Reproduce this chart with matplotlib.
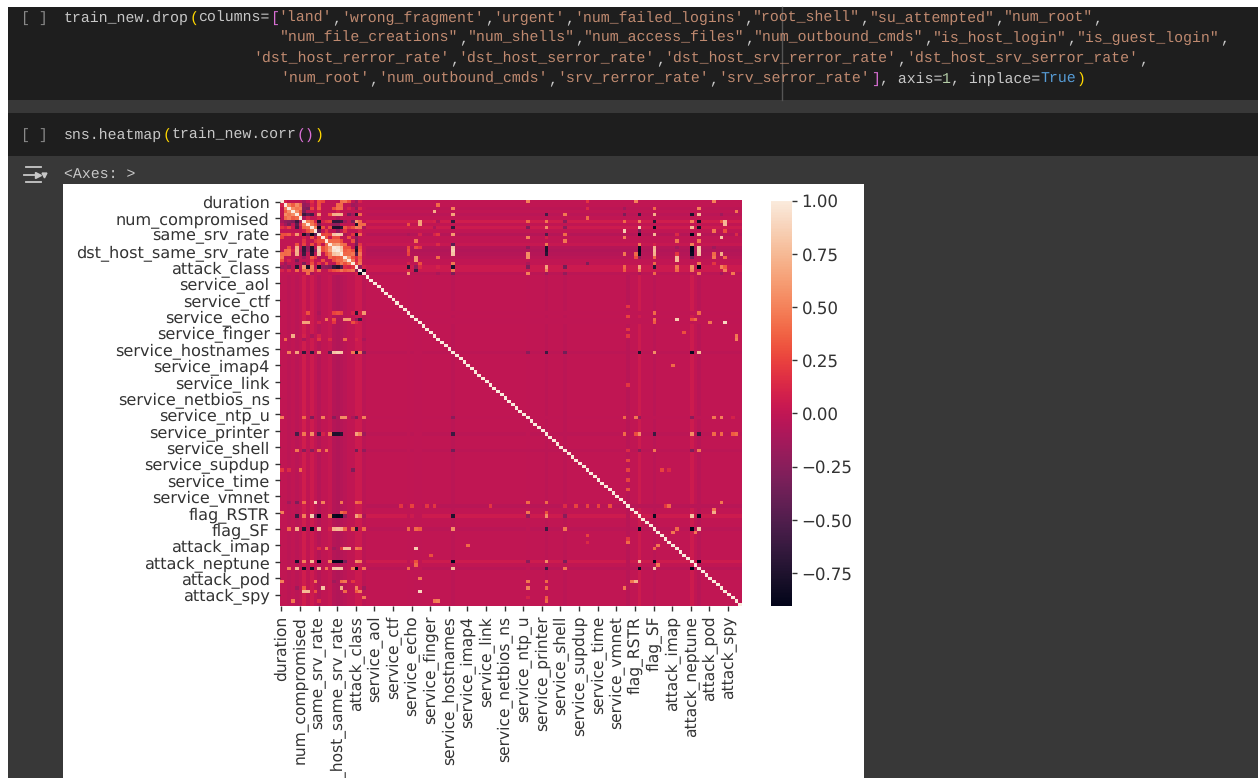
import numpy as np
import seaborn as sns
from matplotlib import pyplot as plt
from matplotlib.patches import Rectangle

plt.rcParams['text.hinting'] = 'no_hinting'

# tick labels, one every 5th column of the correlation matrix
n_cols = 124
tick_labels = ['duration', 'num_compromised', 'same_srv_rate', 'dst_host_same_srv_rate', 'attack_class',
               'service_aol', 'service_ctf', 'service_echo', 'service_finger', 'service_hostnames',
               'service_imap4', 'service_link', 'service_netbios_ns', 'service_ntp_u', 'service_printer',
               'service_shell', 'service_supdup', 'service_time', 'service_vmnet', 'flag_RSTR',
               'flag_SF', 'attack_imap', 'attack_neptune', 'attack_pod', 'attack_spy']
cbar_ticks = [-0.75, -0.5, -0.25, 0, 0.25, 0.5, 0.75, 1.0]
vmin, vmax = -0.905, 1.0

# faint stripes (column -> value, for the service/flag/attack rows)
faint_feature_cols = {2: -.02, 4: -.03, 6: .07, 8: .06, 10: -.05, 13: .03, 14: -.05, 15: -.07, 16: -.05,
                      17: -.03, 20: .05, 21: .05, 22: -.02}
# row -> value, for the dummy columns
faint_dummy_rows = {96: .06, 100: -.03, 110: .06, 112: -.04, 46: -.02, 71: -.02, 66: -.01, 76: -.02,
                    93: -.04, 34: -.01, 36: -.01, 37: -.01}

# numeric features against each other
numeric_rows = {
    0: {1: .1, 6: -.12, 8: .18, 10: .3, 11: .25, 16: .42, 17: .45, 18: .3, 20: -.15, 21: .1},
    1: {2: .5, 3: .35, 4: .55, 5: .4, 6: -.2, 7: -.15, 8: .1, 10: .3, 15: .4, 16: .4, 19: -.15, 20: -.1},
    2: {3: .55, 4: .45, 5: .5, 6: -.25, 7: -.3, 8: .25, 10: .35, 14: .3, 15: .42, 16: .42, 18: .1, 20: -.2, 21: .15},
    3: {4: .55, 5: .35, 6: -.3, 8: .05, 10: .1, 15: .1},
    4: {5: .4, 6: -.6, 7: -.45, 8: -.55, 10: .6, 13: .3, 14: .7, 15: .72, 16: .7, 18: -.3, 19: -.1, 20: -.7, 21: .4},
    5: {6: -.1, 7: .1, 10: .1, 15: -.1},
    6: {7: .5, 8: .4, 9: .1, 10: -.75, 11: .1, 12: .2, 13: .25, 14: -.65, 15: -.65, 16: -.6, 17: -.15, 19: -.3, 20: .6, 21: .4},
    7: {8: .45, 9: .3, 10: -.3, 14: -.2, 15: -.2, 20: -.75, 21: .4, 22: .4},
    8: {9: .5, 10: -.85, 11: .3, 13: .3, 14: -.75, 15: -.75, 16: -.7, 17: .35, 18: .2, 19: .3, 20: .5, 21: .45, 22: -.1},
    9: {10: -.4, 12: .2, 15: -.2, 17: .2, 21: .1},
    10: {11: .25, 12: .3, 13: .25, 14: .8, 15: .85, 16: .8, 17: -.1, 19: .2, 20: -.75, 21: .4},
    11: {12: .3, 14: .3, 15: .3, 18: .3, 20: -.2},
    12: {13: .4, 14: .4, 15: .4, 16: .3, 19: .3, 20: -.25},
    13: {14: .6, 15: .65, 16: .45, 17: .4, 20: -.3, 21: .2},
    14: {15: .95, 16: .8, 17: .3, 18: .3, 20: -.65, 21: .3},
    15: {16: .85, 17: .35, 18: .4, 19: .3, 20: -.75, 21: .35},
    16: {17: .4, 18: .4, 19: .45, 20: -.5, 21: .45},
    17: {18: .6, 19: .3, 20: .15, 21: .35},
    18: {19: .45, 20: .1, 21: .4},
    19: {20: .2, 21: .45},
    20: {21: -.2, 22: .1},
    21: {22: -.85},
}

# service / flag / attack rows against the numeric features
dummy_rows = {
    34: {7: .3, 10: -.1, 14: .25, 15: .3, 16: .25, 19: .1, 20: -.7, 21: .1, 22: .6},
    36: {12: .45, 14: .3, 17: .6, 18: .6, 20: -.2, 21: -.6},
    37: {6: .65, 7: .65, 10: .1, 14: .2, 19: .3, 20: .15},
    41: {3: .7, 6: .1, 8: -.1, 10: .1},
    42: {1: .4, 6: -.1, 10: .2, 13: .15, 17: .4, 20: .1, 22: -.1},
    46: {2: .5, 4: .65, 6: -.65, 8: -.65, 10: .6, 13: -.45, 14: .8, 15: .85, 16: .8, 19: .45, 20: -.75, 21: .45, 22: -.3},
    66: {0: .5, 6: .4, 8: -.3, 11: .5, 14: -.25, 16: .55, 17: .55, 19: -.1, 20: -.3, 22: .5},
    71: {4: -.55, 6: .45, 8: .55, 10: -.5, 11: .1, 13: .45, 14: -.75, 15: -.75, 16: -.7, 20: .65, 21: .5, 22: -.15},
    76: {4: .45, 6: -.25, 8: -.25, 10: .4, 12: .45, 20: -.35, 22: -.2},
    82: {0: .2, 2: .15, 5: .4, 19: -.3},
    92: {2: -.15, 4: -.3, 6: .4, 9: .85, 11: .5, 16: .45, 20: .4, 21: .35},
    95: {0: .5, 16: .4, 17: .3},
    96: {4: -.6, 6: .5, 8: .85, 9: -.3, 10: -.9, 13: .45, 14: -.85, 15: -.88, 16: -.85, 17: -.2, 20: .65, 21: .45, 22: -.1},
    100: {2: .4, 4: .7, 6: -.7, 8: -.85, 10: .75, 13: .1, 14: .72, 15: .75, 16: .72, 17: .4, 19: .4, 20: -.7, 22: .4},
    106: {10: .15, 12: .45, 14: -.15, 16: .2, 17: .75, 18: .75, 20: .45, 21: .4},
    110: {4: -.75, 6: .5, 8: .75, 10: -.9, 13: .5, 14: -.88, 15: -.88, 16: -.85, 17: -.3, 20: .55, 21: .5},
    112: {2: .5, 4: .75, 6: -.8, 8: -.8, 10: .75, 12: .45, 14: .8, 15: .82, 16: .8, 19: .45, 20: -.9, 22: .45},
    116: {0: .5, 9: .45, 14: -.15, 16: .4, 17: .45, 19: .2},
    118: {4: -.15, 6: .35, 11: .8, 16: .7, 20: .5, 22: -.15},
    119: {6: .75, 7: .75, 9: .3, 17: .4, 20: .35, 21: .5},
    121: {22: .45},
    122: {3: .45, 10: .15},
}

# dummy columns against each other (row, col, value)
dummy_cells = [
    (46, 96, -.75), (46, 100, .55), (46, 110, -.85), (46, 112, .75), (46, 71, -.6), (46, 76, -.35), (46, 66, -.25),
    (71, 96, .55), (71, 100, -.6), (71, 110, .55), (71, 112, -.6), (71, 116, .4), (71, 118, .4), (71, 122, .4),
    (71, 121, .35), (71, 92, .4), (71, 95, .3),
    (66, 92, .4), (66, 95, .45), (66, 116, .45), (66, 118, .5), (66, 110, -.25), (66, 96, -.2), (66, 121, .1),
    (76, 96, -.25), (76, 100, .45), (76, 110, -.3), (76, 112, .45),
    (96, 100, -.85), (96, 110, .8), (96, 112, -.85), (100, 110, -.9), (100, 112, .8), (101, 111, .45), (110, 112, -.9),
    (37, 119, .9), (36, 106, .85), (36, 111, .4), (37, 115, .45), (42, 122, .5), (41, 122, .45), (50, 105, .45),
    (40, 108, .45), (92, 118, .45), (95, 116, .7), (94, 116, .45),
    (116, 94, .45), (116, 95, .7), (118, 92, .45), (93, 104, .4), (100, 106, .4), (101, 105, .35),
    (103, 93, .2), (88, 93, .15), (105, 101, .45), (104, 82, .15), (102, 82, .25), (93, 88, .3), (93, 85, .25),
    (93, 82, .25), (93, 79, .25), (93, 76, .15), (34, 112, .4), (34, 100, .4), (36, 100, .4), (37, 100, .35),
    (36, 110, .3), (105, 50, .4), (108, 40, .3), (93, 32, .2), (93, 35, .25), (93, 39, .2), (93, 41, .2), (93, 56, .2),
]

# code cells as (text, colour) runs
base_col = '#c8c8c8'
str_col = '#c08a70'
yel_col = '#ffd700'
pur_col = '#da70d6'
line_1 = [('train_new.drop', base_col), ('(', yel_col), ('columns=', base_col), ('[', pur_col),
          ("'land'", str_col), (',', base_col), ("'wrong_fragment'", str_col), (',', base_col), ("'urgent'", str_col),
          (',', base_col), ("'num_failed_logins'", str_col), (',', base_col), ('"root_shell"', str_col), (',', base_col),
          ('"su_attempted"', str_col), (',', base_col), ('"num_root"', str_col), (',', base_col)]
line_2 = [('"num_file_creations"', str_col), (',', base_col), ('"num_shells"', str_col), (',', base_col),
          ('"num_access_files"', str_col), (',', base_col), ('"num_outbound_cmds"', str_col), (',', base_col),
          ('"is_host_login"', str_col), (',', base_col), ('"is_guest_login"', str_col), (',', base_col)]
line_3 = [("'dst_host_rerror_rate'", str_col), (',', base_col), ("'dst_host_serror_rate'", str_col), (',', base_col),
          ("'dst_host_srv_rerror_rate'", str_col), (',', base_col), ("'dst_host_srv_serror_rate'", str_col), (',', base_col)]
line_4 = [("'num_root'", str_col), (',', base_col), ("'num_outbound_cmds'", str_col), (',', base_col),
          ("'srv_rerror_rate'", str_col), (',', base_col), ("'srv_serror_rate'", str_col), (']', pur_col),
          (', axis=', base_col), ('1', '#b5cea8'), (', inplace=', base_col), ('True', '#569cd6'), (')', yel_col)]
line_5 = [('sns.heatmap', base_col), ('(', yel_col), ('train_new.corr', base_col), ('()', pur_col), (')', yel_col)]


def build_matrix():
    m = np.zeros((n_cols, n_cols))
    for c, v in faint_feature_cols.items():
        m[23:, c] = v
        m[c, 23:] = v
    for r, v in faint_dummy_rows.items():
        m[r, 23:] = v
        m[23:, r] = v
    for rows in (numeric_rows, dummy_rows):
        for r, cells in rows.items():
            for c, v in cells.items():
                m[r, c] = v
                m[c, r] = v
    for r, c, v in dummy_cells:
        m[r, c] = v
        m[c, r] = v
    np.fill_diagonal(m, 1.0)
    return m


def draw_code(ax, runs, x, y):
    # monospace, so each run starts char_w further per character
    char_w = 8.95
    for text, color in runs:
        ax.text(x, y, text, family='Liberation Mono', fontsize=10.74, color=color, va='center', ha='left')
        x += char_w * len(text)


W, H = 1258, 778
fig = plt.figure(figsize=(W / 100, H / 100), dpi=100, facecolor='#383838')

# notebook background, drawn in pixel coordinates
bg = fig.add_axes([0, 0, 1, 1])
bg.set_xlim(0, W)
bg.set_ylim(H, 0)
bg.axis('off')
bg.add_patch(Rectangle((0, 0), W, 7, color='white', lw=0))
bg.add_patch(Rectangle((0, 0), 8, H, color='white', lw=0))
bg.add_patch(Rectangle((8, 7), W - 8, 93, color='#1e1e1e', lw=0))
bg.add_patch(Rectangle((8, 113), W - 8, 43, color='#1e1e1e', lw=0))
bg.add_patch(Rectangle((63, 184), 801, H - 184, color='white', lw=0))
bg.plot([782, 782], [7, 100], color='#555555', lw=1)

bg.text(21, 18, '[ ]', family='Liberation Mono', fontsize=10.74, color='#8a8a8a', va='center')
bg.text(21, 135, '[ ]', family='Liberation Mono', fontsize=10.74, color='#8a8a8a', va='center')
draw_code(bg, line_1, 64, 18)
draw_code(bg, line_2, 280, 38)
draw_code(bg, line_3, 253, 59)
draw_code(bg, line_4, 280, 79)
draw_code(bg, line_5, 64, 135)
bg.text(64, 175, '<Axes: >', family='Liberation Mono', fontsize=10.74, color=base_col, va='center')

# output icon
bg.plot([26, 41], [167, 167], color='#c8c8c8', lw=1.3)
bg.plot([26, 41], [182, 182], color='#c8c8c8', lw=1.3)
bg.plot([24, 38], [174.5, 174.5], color='#c8c8c8', lw=1.3)
bg.plot([38], [174.5], marker='>', color='#c8c8c8', ms=4)
bg.plot([44], [174.5], marker='v', color='#c8c8c8', ms=3.5)

# heatmap
matrix = build_matrix()
ax = fig.add_axes([279.5 / W, 1 - 606 / H, 461.5 / W, 406 / H])
rocket = sns.color_palette('rocket', as_cmap=True)
im = ax.imshow(matrix, cmap=rocket, vmin=vmin, vmax=vmax, aspect='auto', interpolation='nearest')
for s in ax.spines.values():
    s.set_visible(False)
tick_pos = np.arange(0, n_cols, 5)
ax.set_xticks(tick_pos, tick_labels, rotation=90)
ax.set_yticks(tick_pos, tick_labels)
ax.tick_params(length=3.6, width=1, colors='#333333')
ax.tick_params(axis='x', labelsize=11.2)
ax.tick_params(axis='y', labelsize=11.6)

cax = fig.add_axes([770.7 / W, 1 - 606 / H, 21 / W, 405.3 / H])
cbar = fig.colorbar(im, cax=cax)
cbar.outline.set_visible(False)
cbar.set_ticks(cbar_ticks)
cbar.ax.tick_params(labelsize=12, length=3.6, width=1, colors='#333333')

plt.savefig('out.png', dpi=100)
